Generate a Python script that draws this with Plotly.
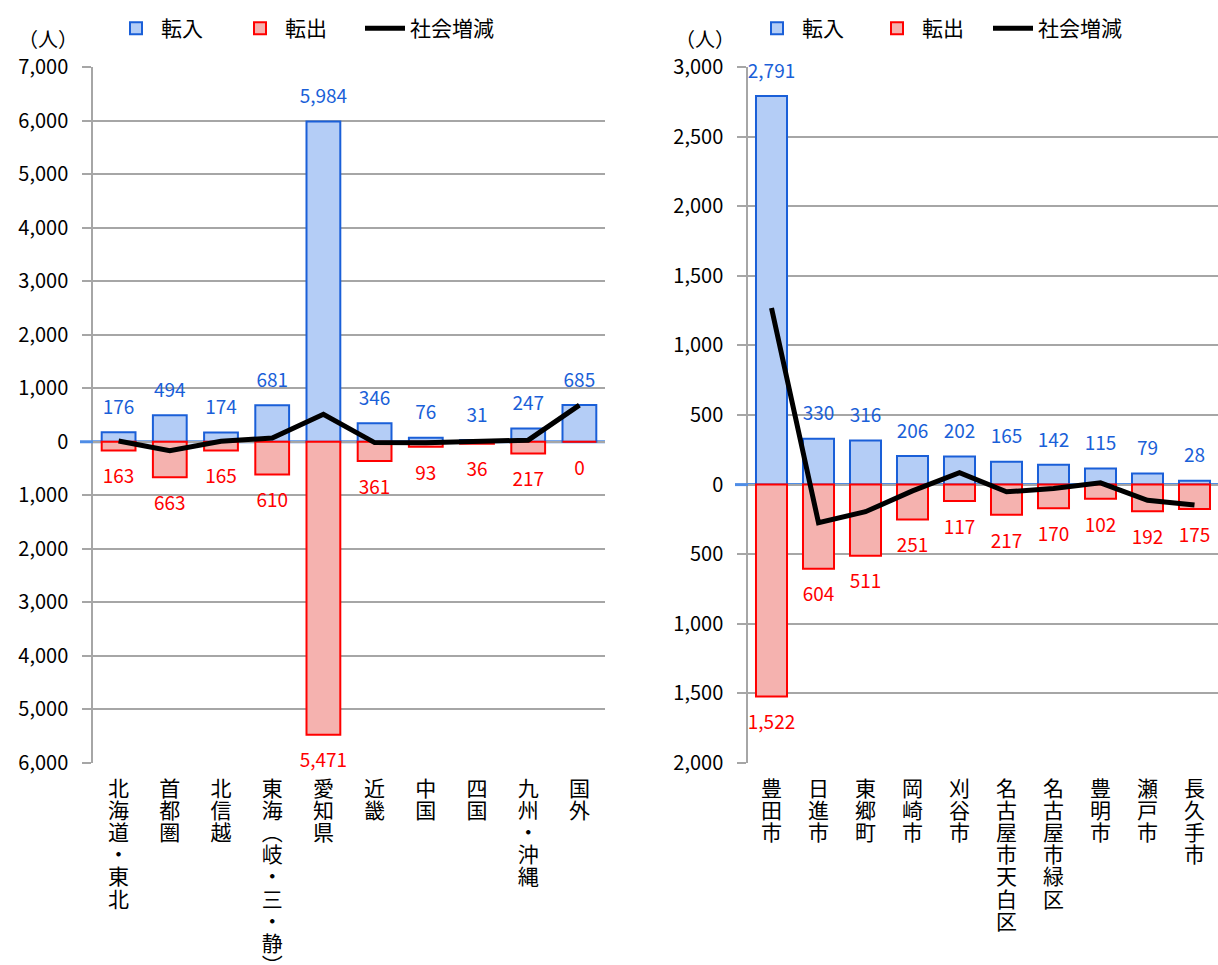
import plotly.graph_objects as go

# ---------------- data ----------------
left_cats = ["北海道・東北", "首都圏", "北信越", "東海︵岐・三・静︶", "愛知県",
             "近畿", "中国", "四国", "九州・沖縄", "国外"]
left_in = [176, 494, 174, 681, 5984, 346, 76, 31, 247, 685]
left_out = [163, 663, 165, 610, 5471, 361, 93, 36, 217, 0]
left_net = [13, -169, 9, 71, 513, -15, -17, -5, 30, 685]

right_cats = ["豊田市", "日進市", "東郷町", "岡崎市", "刈谷市",
              "名古屋市天白区", "名古屋市緑区", "豊明市", "瀬戸市", "長久手市"]
right_in = [2791, 330, 316, 206, 202, 165, 142, 115, 79, 28]
right_out = [1522, 604, 511, 251, 117, 217, 170, 102, 192, 175]
right_net = [1269, -274, -195, -45, 85, -52, -28, 13, -113, -147]

left_ticks = list(range(-6000, 7001, 1000))
right_ticks = list(range(-2000, 3001, 500))

# ---------------- style ----------------
FONT = "Noto Sans CJK JP"
BLUE_FILL = "#B4CDF6"
BLUE_LINE = "#1A5FD8"
RED_FILL = "#F5B2AF"
RED_LINE = "#FF0000"
GRID = "#A6A6A6"
ZERO = "#4F8DE6"
W, H = 1218, 965


def vert(s):
    return "<br>".join(f'<span style="font-size:21px">{ch}</span>' for ch in s)


fig = go.Figure()


def add_panel(cats, vin, vout, vnet, xa, ya, legs):
    neg_out = [-v for v in vout]
    fig.add_trace(go.Bar(x=cats, y=vin, name="転入", marker=dict(color=BLUE_FILL, line=dict(color=BLUE_LINE, width=2)),
                         width=0.66, xaxis=xa, yaxis=ya, legend=legs[0], hoverinfo="skip"))
    fig.add_trace(go.Bar(x=cats, y=neg_out, name="転出", marker=dict(color=RED_FILL, line=dict(color=RED_LINE, width=2)),
                         width=0.66, xaxis=xa, yaxis=ya, legend=legs[1], hoverinfo="skip"))
    fig.add_trace(go.Scatter(x=cats, y=vnet, name="社会増減", mode="lines", line=dict(color="black", width=5),
                             xaxis=xa, yaxis=ya, legend=legs[2], hoverinfo="skip"))
    fig.add_trace(go.Scatter(x=cats, y=vin, mode="markers+text", text=[f"{v:,}" for v in vin],
                             textposition="top center", marker=dict(size=20, color="rgba(0,0,0,0)"),
                             textfont=dict(family=FONT, size=19, color=BLUE_LINE), showlegend=False,
                             xaxis=xa, yaxis=ya, cliponaxis=False, hoverinfo="skip"))
    fig.add_trace(go.Scatter(x=cats, y=neg_out, mode="markers+text", text=[f"{v:,}" for v in vout],
                             textposition="bottom center", marker=dict(size=28, color="rgba(0,0,0,0)"),
                             textfont=dict(family=FONT, size=19, color=RED_LINE), showlegend=False,
                             xaxis=xa, yaxis=ya, cliponaxis=False, hoverinfo="skip"))


add_panel(left_cats, left_in, left_out, left_net, "x", "y", ["legend", "legend2", "legend3"])
add_panel(right_cats, right_in, right_out, right_net, "x2", "y2", ["legend4", "legend5", "legend6"])

ytop = 1 - 67 / H
ybot = 1 - 763 / H
lx0, lx1 = 93 / W, 605 / W
rx0, rx1 = 748 / W, 1.0

xcommon = dict(type="category", showgrid=False, zeroline=False, showline=False, ticks="",
               tickfont=dict(family=FONT, size=17, color="black"), tickangle=0, automargin=False,
               ticklabelstandoff=15, range=[-0.5, 9.5])
ycommon = dict(showgrid=True, gridcolor=GRID, gridwidth=1.5, zeroline=False, showline=True,
               linecolor=GRID, linewidth=1.5, ticks="outside", ticklen=9, tickcolor=GRID, tickwidth=1.5,
               tickfont=dict(family=FONT, size=20, color="black"), automargin=False,
               ticklabelstandoff=10)


def leg(text_x):
    return dict(orientation="h", yanchor="top", xanchor="left", y=1 - 8 / H, x=(text_x - 50) / W,
                font=dict(family=FONT, size=21, color="black"), bgcolor="rgba(0,0,0,0)",
                itemwidth=40)


fig.update_layout(
    width=W, height=H,
    margin=dict(l=0, r=0, t=0, b=0),
    template="none",
    paper_bgcolor="white", plot_bgcolor="white",
    barmode="overlay",
    font=dict(family=FONT, size=20, color="black"),
    xaxis=dict(domain=[lx0, lx1], anchor="y",
               tickvals=left_cats, ticktext=[vert(c) for c in left_cats], **xcommon),
    yaxis=dict(domain=[ybot, ytop], anchor="x", range=[-6000, 7000],
               tickvals=left_ticks, ticktext=[f"{abs(v):,}" for v in left_ticks], **ycommon),
    xaxis2=dict(domain=[rx0, rx1], anchor="y2",
                tickvals=right_cats, ticktext=[vert(c) for c in right_cats], **xcommon),
    yaxis2=dict(domain=[ybot, ytop], anchor="x2", range=[-2000, 3000],
                tickvals=right_ticks, ticktext=[f"{abs(v):,}" for v in right_ticks], **ycommon),
    legend=leg(161), legend2=leg(285), legend3=leg(410),
    legend4=leg(802), legend5=leg(922), legend6=leg(1038),
    shapes=[
        dict(type="line", xref="x domain", yref="y", x0=0, x1=1, y0=0, y1=0,
             line=dict(color=ZERO, width=3), layer="below"),
        dict(type="line", xref="paper", yref="y", x0=80 / W, x1=lx0, y0=0, y1=0,
             line=dict(color=ZERO, width=3), layer="above"),
        dict(type="line", xref="x2 domain", yref="y2", x0=0, x1=1, y0=0, y1=0,
             line=dict(color=ZERO, width=3), layer="below"),
        dict(type="line", xref="paper", yref="y2", x0=735 / W, x1=rx0, y0=0, y1=0,
             line=dict(color=ZERO, width=3), layer="above"),
    ],
    annotations=[
        dict(text="（人）", xref="paper", yref="paper", x=48 / W, y=1 - 38 / H, showarrow=False,
             xanchor="center", yanchor="middle", font=dict(family=FONT, size=20, color="black")),
        dict(text="（人）", xref="paper", yref="paper", x=705 / W, y=1 - 38 / H, showarrow=False,
             xanchor="center", yanchor="middle", font=dict(family=FONT, size=20, color="black")),
    ],
)

fig.write_html("out.html")
